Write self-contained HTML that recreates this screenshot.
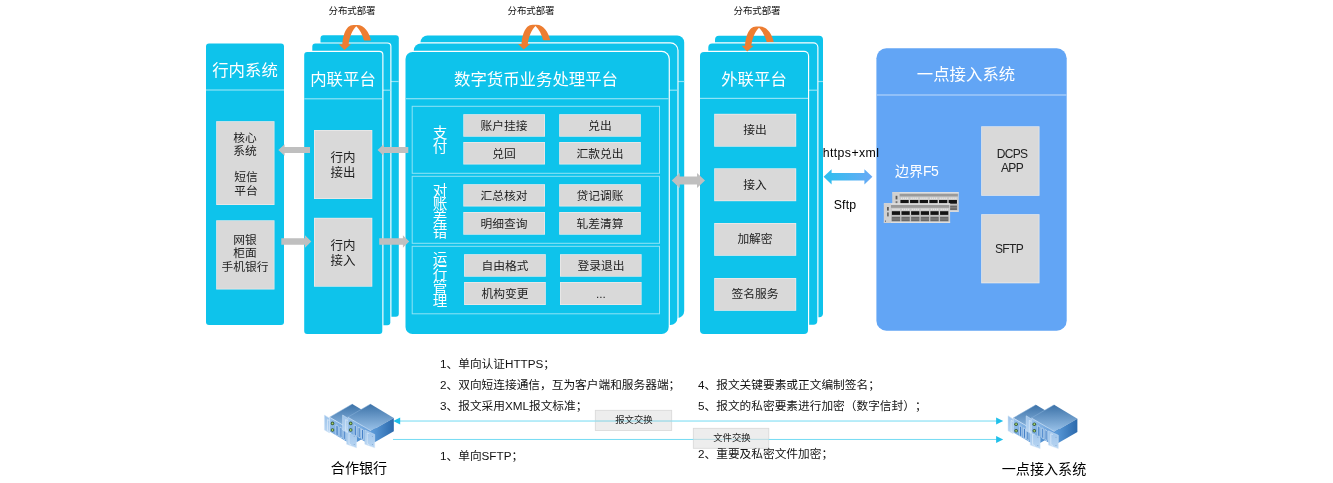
<!DOCTYPE html>
<html lang="zh"><head><meta charset="utf-8"><title>数字货币业务处理平台</title>
<style>
html,body{margin:0;padding:0;background:#fff;}
body{width:1333px;height:483px;position:relative;overflow:hidden;font-family:"Liberation Sans","Noto Sans CJK SC",sans-serif;}
svg{position:absolute;left:0;top:0;}
.t{position:absolute;white-space:nowrap;will-change:transform;line-height:20px;height:20px;text-spacing-trim:space-all;}
</style></head><body>
<svg width="1333" height="483" viewBox="0 0 1333 483">
<defs>
<linearGradient id="st" x1="0" y1="0" x2="0" y2="1"><stop offset="0" stop-color="#3C72A8"/><stop offset="1" stop-color="#9AC2E9"/></linearGradient>
<linearGradient id="sr" x1="0" y1="0" x2="1" y2="0"><stop offset="0" stop-color="#5E9DDB"/><stop offset="1" stop-color="#2B69AC"/></linearGradient>
<linearGradient id="sf" x1="0" y1="0" x2="1" y2="1"><stop offset="0" stop-color="#9CC4EC"/><stop offset="1" stop-color="#4A8BD0"/></linearGradient>
<linearGradient id="se" x1="0" y1="0" x2="0" y2="1"><stop offset="0" stop-color="#9DC3EA"/><stop offset="1" stop-color="#B9D6F3"/></linearGradient>
</defs>
<rect x="206.00" y="43.50" width="78.00" height="281.50" rx="3" fill="#0EC3EB" />
<rect x="206" y="89.4" width="78" height="1.2" fill="#8FE3F6"/>
<rect x="216.20" y="121.20" width="58.30" height="83.80" fill="#ECECEC"/>
<rect x="216.90" y="121.90" width="56.90" height="82.40" fill="#D9D9D9"/>
<rect x="216.20" y="220.30" width="58.30" height="69.20" fill="#ECECEC"/>
<rect x="216.90" y="221.00" width="56.90" height="67.80" fill="#D9D9D9"/>
<rect x="320.50" y="35.30" width="78.30" height="281.50" rx="3" fill="#0EC3EB" />
<rect x="320.50" y="80.90" width="78.30" height="1.2" fill="#8FE3F6"/>
<rect x="311.15" y="42.45" width="80.30" height="283.90" rx="4.1" fill="#fff" />
<rect x="312.30" y="43.60" width="78.00" height="281.60" rx="3" fill="#0EC3EB" />
<rect x="312.30" y="89.60" width="78.00" height="1.2" fill="#8FE3F6"/>
<rect x="303.05" y="50.85" width="80.40" height="284.30" rx="4.1" fill="#fff" />
<rect x="304.20" y="52.00" width="78.10" height="282.00" rx="3" fill="#0EC3EB" />
<rect x="304.20" y="98.20" width="78.10" height="1.2" fill="#8FE3F6"/>
<rect x="314.00" y="130.00" width="58.30" height="69.00" fill="#ECECEC"/>
<rect x="314.70" y="130.70" width="56.90" height="67.60" fill="#D9D9D9"/>
<rect x="314.00" y="217.80" width="58.30" height="68.90" fill="#ECECEC"/>
<rect x="314.70" y="218.50" width="56.90" height="67.50" fill="#D9D9D9"/>
<rect x="420.50" y="35.50" width="263.70" height="282.50" rx="7" fill="#0EC3EB" />
<rect x="420.50" y="80.90" width="263.70" height="1.2" fill="#8FE3F6"/>
<rect x="412.65" y="42.35" width="265.90" height="283.80" rx="8.1" fill="#fff" />
<rect x="413.80" y="43.50" width="263.60" height="281.50" rx="7" fill="#0EC3EB" />
<rect x="413.80" y="89.60" width="263.60" height="1.2" fill="#8FE3F6"/>
<rect x="404.35" y="50.85" width="265.50" height="284.30" rx="8.1" fill="#fff" />
<rect x="405.50" y="52.00" width="263.20" height="282.00" rx="7" fill="#0EC3EB" />
<rect x="405.50" y="98.10" width="263.20" height="1.2" fill="#8FE3F6"/>
<rect x="412.2" y="106.3" width="247.3" height="67.00" fill="none" stroke="#8FE3F6" stroke-width="1"/>
<rect x="412.2" y="176.3" width="247.3" height="67.00" fill="none" stroke="#8FE3F6" stroke-width="1"/>
<rect x="412.2" y="246.3" width="247.3" height="67.50" fill="none" stroke="#8FE3F6" stroke-width="1"/>
<rect x="463.30" y="114.20" width="81.70" height="22.50" fill="#ECECEC"/>
<rect x="464.00" y="114.90" width="80.30" height="21.10" fill="#D9D9D9"/>
<rect x="559.20" y="114.20" width="81.60" height="22.50" fill="#ECECEC"/>
<rect x="559.90" y="114.90" width="80.20" height="21.10" fill="#D9D9D9"/>
<rect x="463.30" y="142.00" width="81.70" height="22.50" fill="#ECECEC"/>
<rect x="464.00" y="142.70" width="80.30" height="21.10" fill="#D9D9D9"/>
<rect x="559.20" y="142.00" width="81.60" height="22.50" fill="#ECECEC"/>
<rect x="559.90" y="142.70" width="80.20" height="21.10" fill="#D9D9D9"/>
<rect x="463.30" y="184.20" width="81.70" height="22.30" fill="#ECECEC"/>
<rect x="464.00" y="184.90" width="80.30" height="20.90" fill="#D9D9D9"/>
<rect x="559.20" y="184.20" width="81.60" height="22.30" fill="#ECECEC"/>
<rect x="559.90" y="184.90" width="80.20" height="20.90" fill="#D9D9D9"/>
<rect x="463.30" y="212.00" width="81.70" height="22.70" fill="#ECECEC"/>
<rect x="464.00" y="212.70" width="80.30" height="21.30" fill="#D9D9D9"/>
<rect x="559.20" y="212.00" width="81.60" height="22.70" fill="#ECECEC"/>
<rect x="559.90" y="212.70" width="80.20" height="21.30" fill="#D9D9D9"/>
<rect x="464.10" y="254.20" width="81.70" height="22.50" fill="#ECECEC"/>
<rect x="464.80" y="254.90" width="80.30" height="21.10" fill="#D9D9D9"/>
<rect x="560.00" y="254.20" width="81.60" height="22.50" fill="#ECECEC"/>
<rect x="560.70" y="254.90" width="80.20" height="21.10" fill="#D9D9D9"/>
<rect x="464.10" y="282.00" width="81.70" height="23.00" fill="#ECECEC"/>
<rect x="464.80" y="282.70" width="80.30" height="21.60" fill="#D9D9D9"/>
<rect x="560.00" y="282.00" width="81.60" height="23.00" fill="#ECECEC"/>
<rect x="560.70" y="282.70" width="80.20" height="21.60" fill="#D9D9D9"/>
<rect x="715.00" y="35.70" width="108.00" height="281.50" rx="4" fill="#0EC3EB" />
<rect x="715.00" y="80.90" width="108.00" height="1.2" fill="#8FE3F6"/>
<rect x="707.15" y="42.35" width="111.30" height="283.60" rx="5.1" fill="#fff" />
<rect x="708.30" y="43.50" width="109.00" height="281.30" rx="4" fill="#0EC3EB" />
<rect x="708.30" y="89.60" width="109.00" height="1.2" fill="#8FE3F6"/>
<rect x="698.85" y="50.85" width="110.30" height="284.30" rx="5.1" fill="#fff" />
<rect x="700.00" y="52.00" width="108.00" height="282.00" rx="4" fill="#0EC3EB" />
<rect x="700.00" y="97.80" width="108.00" height="1.2" fill="#8FE3F6"/>
<rect x="714.20" y="113.80" width="82.00" height="32.90" fill="#ECECEC"/>
<rect x="714.90" y="114.50" width="80.60" height="31.50" fill="#D9D9D9"/>
<rect x="714.20" y="168.30" width="82.00" height="32.90" fill="#ECECEC"/>
<rect x="714.90" y="169.00" width="80.60" height="31.50" fill="#D9D9D9"/>
<rect x="714.20" y="223.00" width="82.00" height="32.80" fill="#ECECEC"/>
<rect x="714.90" y="223.70" width="80.60" height="31.40" fill="#D9D9D9"/>
<rect x="714.20" y="278.00" width="82.00" height="32.80" fill="#ECECEC"/>
<rect x="714.90" y="278.70" width="80.60" height="31.40" fill="#D9D9D9"/>
<rect x="876.40" y="48.30" width="190.30" height="282.50" rx="10" fill="#62A5F5" />
<rect x="876.4" y="94.3" width="190.3" height="1.4" fill="#A5CCFA"/>
<rect x="981.20" y="126.30" width="58.30" height="69.50" fill="#ECECEC"/>
<rect x="981.90" y="127.00" width="56.90" height="68.10" fill="#D9D9D9"/>
<rect x="981.20" y="214.20" width="58.30" height="69.10" fill="#ECECEC"/>
<rect x="981.90" y="214.90" width="56.90" height="67.70" fill="#D9D9D9"/>
<g transform="translate(892.5,192.2)"><rect x="0" y="0" width="66.2" height="19.6" fill="#D6D6D6"/><rect x="0" y="0" width="66.2" height="1.2" fill="#E4E4E4"/><rect x="0" y="18.200000000000003" width="66.2" height="1.4" fill="#DEDEDE"/><rect x="0" y="0" width="7" height="19.6" fill="#D0D0D0"/><rect x="7.1" y="1.5" width="58.3" height="3" fill="#9A9A9A"/><rect x="7.1" y="4.5" width="58.3" height="3.3" fill="#C9C9C9"/><rect x="7.1" y="11.5" width="58.3" height="6.7" fill="#BEBEBE"/><rect x="3.1" y="3.6" width="1.8" height="3.6" fill="#5a5a5a"/><rect x="3.1" y="9" width="1.8" height="4" fill="#707070"/><rect x="1.2" y="17" width="0.9" height="1.6" fill="#777"/><rect x="7.90" y="7.8" width="8.3" height="3.7" fill="#141414"/><rect x="7.90" y="13.4" width="8.3" height="4.4" fill="#686868"/><rect x="7.90" y="15.2" width="8.3" height="0.8" fill="#9a9a9a" opacity="0.7"/><rect x="8.50" y="5.3" width="1.2" height="1.5" fill="#E6E6E6"/><rect x="10.50" y="5.3" width="1.2" height="1.5" fill="#E6E6E6"/><rect x="12.50" y="5.3" width="1.2" height="1.5" fill="#E6E6E6"/><rect x="14.50" y="5.3" width="1.2" height="1.5" fill="#E6E6E6"/><rect x="17.55" y="7.8" width="8.3" height="3.7" fill="#141414"/><rect x="17.55" y="13.4" width="8.3" height="4.4" fill="#686868"/><rect x="17.55" y="15.2" width="8.3" height="0.8" fill="#9a9a9a" opacity="0.7"/><rect x="18.15" y="5.3" width="1.2" height="1.5" fill="#E6E6E6"/><rect x="20.15" y="5.3" width="1.2" height="1.5" fill="#E6E6E6"/><rect x="22.15" y="5.3" width="1.2" height="1.5" fill="#E6E6E6"/><rect x="24.15" y="5.3" width="1.2" height="1.5" fill="#E6E6E6"/><rect x="27.20" y="7.8" width="8.3" height="3.7" fill="#141414"/><rect x="27.20" y="13.4" width="8.3" height="4.4" fill="#686868"/><rect x="27.20" y="15.2" width="8.3" height="0.8" fill="#9a9a9a" opacity="0.7"/><rect x="27.80" y="5.3" width="1.2" height="1.5" fill="#E6E6E6"/><rect x="29.80" y="5.3" width="1.2" height="1.5" fill="#E6E6E6"/><rect x="31.80" y="5.3" width="1.2" height="1.5" fill="#E6E6E6"/><rect x="33.80" y="5.3" width="1.2" height="1.5" fill="#E6E6E6"/><rect x="36.85" y="7.8" width="8.3" height="3.7" fill="#141414"/><rect x="36.85" y="13.4" width="8.3" height="4.4" fill="#686868"/><rect x="36.85" y="15.2" width="8.3" height="0.8" fill="#9a9a9a" opacity="0.7"/><rect x="37.45" y="5.3" width="1.2" height="1.5" fill="#E6E6E6"/><rect x="39.45" y="5.3" width="1.2" height="1.5" fill="#E6E6E6"/><rect x="41.45" y="5.3" width="1.2" height="1.5" fill="#E6E6E6"/><rect x="43.45" y="5.3" width="1.2" height="1.5" fill="#E6E6E6"/><rect x="46.50" y="7.8" width="8.3" height="3.7" fill="#141414"/><rect x="46.50" y="13.4" width="8.3" height="4.4" fill="#686868"/><rect x="46.50" y="15.2" width="8.3" height="0.8" fill="#9a9a9a" opacity="0.7"/><rect x="47.10" y="5.3" width="1.2" height="1.5" fill="#E6E6E6"/><rect x="49.10" y="5.3" width="1.2" height="1.5" fill="#E6E6E6"/><rect x="51.10" y="5.3" width="1.2" height="1.5" fill="#E6E6E6"/><rect x="53.10" y="5.3" width="1.2" height="1.5" fill="#E6E6E6"/><rect x="56.15" y="7.8" width="8.3" height="3.7" fill="#141414"/><rect x="56.15" y="13.4" width="8.3" height="4.4" fill="#686868"/><rect x="56.15" y="15.2" width="8.3" height="0.8" fill="#9a9a9a" opacity="0.7"/><rect x="56.75" y="5.3" width="1.2" height="1.5" fill="#E6E6E6"/><rect x="58.75" y="5.3" width="1.2" height="1.5" fill="#E6E6E6"/><rect x="60.75" y="5.3" width="1.2" height="1.5" fill="#E6E6E6"/><rect x="62.75" y="5.3" width="1.2" height="1.5" fill="#E6E6E6"/></g>
<g transform="translate(883.9,203.4)"><rect x="0" y="0" width="66.2" height="19.6" fill="#D6D6D6"/><rect x="0" y="0" width="66.2" height="1.2" fill="#E4E4E4"/><rect x="0" y="18.200000000000003" width="66.2" height="1.4" fill="#DEDEDE"/><rect x="0" y="0" width="7" height="19.6" fill="#D0D0D0"/><rect x="7.1" y="1.5" width="58.3" height="3" fill="#9A9A9A"/><rect x="7.1" y="4.5" width="58.3" height="3.3" fill="#C9C9C9"/><rect x="7.1" y="11.5" width="58.3" height="6.7" fill="#BEBEBE"/><rect x="3.1" y="3.6" width="1.8" height="3.6" fill="#5a5a5a"/><rect x="3.1" y="9" width="1.8" height="4" fill="#707070"/><rect x="1.2" y="17" width="0.9" height="1.6" fill="#777"/><rect x="7.90" y="7.8" width="8.3" height="3.7" fill="#141414"/><rect x="7.90" y="13.4" width="8.3" height="4.4" fill="#686868"/><rect x="7.90" y="15.2" width="8.3" height="0.8" fill="#9a9a9a" opacity="0.7"/><rect x="8.50" y="5.3" width="1.2" height="1.5" fill="#E6E6E6"/><rect x="10.50" y="5.3" width="1.2" height="1.5" fill="#E6E6E6"/><rect x="12.50" y="5.3" width="1.2" height="1.5" fill="#E6E6E6"/><rect x="14.50" y="5.3" width="1.2" height="1.5" fill="#E6E6E6"/><rect x="17.55" y="7.8" width="8.3" height="3.7" fill="#141414"/><rect x="17.55" y="13.4" width="8.3" height="4.4" fill="#686868"/><rect x="17.55" y="15.2" width="8.3" height="0.8" fill="#9a9a9a" opacity="0.7"/><rect x="18.15" y="5.3" width="1.2" height="1.5" fill="#E6E6E6"/><rect x="20.15" y="5.3" width="1.2" height="1.5" fill="#E6E6E6"/><rect x="22.15" y="5.3" width="1.2" height="1.5" fill="#E6E6E6"/><rect x="24.15" y="5.3" width="1.2" height="1.5" fill="#E6E6E6"/><rect x="27.20" y="7.8" width="8.3" height="3.7" fill="#141414"/><rect x="27.20" y="13.4" width="8.3" height="4.4" fill="#686868"/><rect x="27.20" y="15.2" width="8.3" height="0.8" fill="#9a9a9a" opacity="0.7"/><rect x="27.80" y="5.3" width="1.2" height="1.5" fill="#E6E6E6"/><rect x="29.80" y="5.3" width="1.2" height="1.5" fill="#E6E6E6"/><rect x="31.80" y="5.3" width="1.2" height="1.5" fill="#E6E6E6"/><rect x="33.80" y="5.3" width="1.2" height="1.5" fill="#E6E6E6"/><rect x="36.85" y="7.8" width="8.3" height="3.7" fill="#141414"/><rect x="36.85" y="13.4" width="8.3" height="4.4" fill="#686868"/><rect x="36.85" y="15.2" width="8.3" height="0.8" fill="#9a9a9a" opacity="0.7"/><rect x="37.45" y="5.3" width="1.2" height="1.5" fill="#E6E6E6"/><rect x="39.45" y="5.3" width="1.2" height="1.5" fill="#E6E6E6"/><rect x="41.45" y="5.3" width="1.2" height="1.5" fill="#E6E6E6"/><rect x="43.45" y="5.3" width="1.2" height="1.5" fill="#E6E6E6"/><rect x="46.50" y="7.8" width="8.3" height="3.7" fill="#141414"/><rect x="46.50" y="13.4" width="8.3" height="4.4" fill="#686868"/><rect x="46.50" y="15.2" width="8.3" height="0.8" fill="#9a9a9a" opacity="0.7"/><rect x="47.10" y="5.3" width="1.2" height="1.5" fill="#E6E6E6"/><rect x="49.10" y="5.3" width="1.2" height="1.5" fill="#E6E6E6"/><rect x="51.10" y="5.3" width="1.2" height="1.5" fill="#E6E6E6"/><rect x="53.10" y="5.3" width="1.2" height="1.5" fill="#E6E6E6"/><rect x="56.15" y="7.8" width="8.3" height="3.7" fill="#141414"/><rect x="56.15" y="13.4" width="8.3" height="4.4" fill="#686868"/><rect x="56.15" y="15.2" width="8.3" height="0.8" fill="#9a9a9a" opacity="0.7"/><rect x="56.75" y="5.3" width="1.2" height="1.5" fill="#E6E6E6"/><rect x="58.75" y="5.3" width="1.2" height="1.5" fill="#E6E6E6"/><rect x="60.75" y="5.3" width="1.2" height="1.5" fill="#E6E6E6"/><rect x="62.75" y="5.3" width="1.2" height="1.5" fill="#E6E6E6"/></g>
<path d="M278.30 150.00 L284.60 144.20 L284.60 147.10 L310.00 147.10 L310.00 152.90 L284.60 152.90 L284.60 155.80 Z" fill="#BFBFBF"/>
<path d="M377.50 150.00 L383.80 144.20 L383.80 147.10 L408.30 147.10 L408.30 152.90 L383.80 152.90 L383.80 155.80 Z" fill="#BFBFBF"/>
<path d="M311.30 241.50 L305.00 235.20 L305.00 238.25 L281.30 238.25 L281.30 244.75 L305.00 244.75 L305.00 247.80 Z" fill="#BFBFBF"/>
<path d="M409.20 241.50 L402.90 235.20 L402.90 238.25 L379.20 238.25 L379.20 244.75 L402.90 244.75 L402.90 247.80 Z" fill="#BFBFBF"/>
<path d="M671.70 180.50 L679.70 173.00 L679.70 176.60 L697.00 176.60 L697.00 173.00 L705.00 180.50 L697.00 188.00 L697.00 184.40 L679.70 184.40 L679.70 188.00 Z" fill="#BFBFBF"/>
<defs><linearGradient id="bg" x1="0" x2="1" y1="0" y2="0"><stop offset="0" stop-color="#2CC0EF"/><stop offset="1" stop-color="#6AA9F5"/></linearGradient></defs>
<path d="M823.60 176.80 L831.60 169.15 L831.60 173.05 L864.40 173.05 L864.40 169.15 L872.40 176.80 L864.40 184.45 L864.40 180.55 L831.60 180.55 L831.60 184.45 Z" fill="url(#bg)"/>
<path transform="translate(344.5,49.9)" d="M-2.1,-5.6 C-1.8,-12 0.5,-24.9 9,-24.9 L13,-24.9 C19.6,-24.9 24.9,-17.5 26.5,-9.4 L19.5,-9.4 C18,-15 15.5,-20 11.8,-23.6 C8,-20 5,-13 4.1,-5.6 L6.4,-5.6 L0,0 L-5.6,-5.6 Z" fill="#ED7D31"/>
<path transform="translate(523.7,49.6)" d="M-2.1,-5.6 C-1.8,-12 0.5,-24.9 9,-24.9 L13,-24.9 C19.6,-24.9 24.9,-17.5 26.5,-9.4 L19.5,-9.4 C18,-15 15.5,-20 11.8,-23.6 C8,-20 5,-13 4.1,-5.6 L6.4,-5.6 L0,0 L-5.6,-5.6 Z" fill="#ED7D31"/>
<path transform="translate(747.2,51.4)" d="M-2.1,-5.6 C-1.8,-12 0.5,-24.9 9,-24.9 L13,-24.9 C19.6,-24.9 24.9,-17.5 26.5,-9.4 L19.5,-9.4 C18,-15 15.5,-20 11.8,-23.6 C8,-20 5,-13 4.1,-5.6 L6.4,-5.6 L0,0 L-5.6,-5.6 Z" fill="#ED7D31"/>
<rect x="595.3" y="410.3" width="76.4" height="20.2" fill="#EDEDED" stroke="#D8D8D8" stroke-width="0.8"/>
<rect x="693.3" y="428.3" width="75.5" height="20" fill="#EDEDED" stroke="#D8D8D8" stroke-width="0.8"/>
<rect x="399" y="420.5" width="600" height="1.05" fill="#7ADCF3"/>
<rect x="393" y="438.95" width="606" height="1.05" fill="#7ADCF3"/>
<rect x="595.3" y="420.5" width="76.4" height="1.05" fill="#BFDDE4"/>
<rect x="693.3" y="438.95" width="75.5" height="1.05" fill="#BFDDE4"/>
<path d="M393.2 420.95 L400.2 417.5 L400.2 424.4 Z" fill="#1FC0EA"/>
<path d="M1003.2 421 L996.1 417.6 L996.1 424.4 Z" fill="#1FC0EA"/>
<path d="M1003.2 439.5 L996.1 436.1 L996.1 442.9 Z" fill="#1FC0EA"/>
<g transform="translate(326.6,403.6)">
  <polygon points="3,13.6 25.7,0.4 49,14.3 26.2,27.3" fill="url(#st)"/>
  <polygon points="26.2,27.3 49,14.3 49,27.7 29.9,38.6 26.2,38" fill="url(#sr)"/>
  <polygon points="3,13.6 26.2,27.3 26.2,41.6 3,28" fill="url(#sf)"/>
  <path d="M3,13.6 L26.2,27.3" stroke="#CFE2F6" stroke-width="0.7" fill="none"/>
  <path d="M3,13.6 L25.7,0.4" stroke="#8DB4DC" stroke-width="0.5" fill="none"/>
  <polygon points="-2.2,11.4 3,14.6 3,29.3 -2.2,26.4" fill="url(#se)" stroke="#D3E4F6" stroke-width="0.5"/>
  <path d="M2.8,17 L0.9,16 L0.9,27 L2.8,28" stroke="#E8F1FB" stroke-width="0.6" fill="none"/>
  <polygon points="20,26.4 29.9,30.8 29.9,44.2 20,40.6" fill="url(#se)" stroke="#D3E4F6" stroke-width="0.5"/>
  <path d="M24.6,30.2 L22.4,29.3 L22.4,40.2 L24.6,41.2" stroke="#E8F1FB" stroke-width="0.6" fill="none"/>
  <circle cx="27.6" cy="32.8" r="0.5" fill="#7FA5CC"/><circle cx="27.6" cy="41" r="0.5" fill="#7FA5CC"/>
  <circle cx="5.9" cy="19.8" r="1.8" fill="#3a5a3a"/><circle cx="5.9" cy="19.8" r="0.9" fill="#a6d96e"/>
  <circle cx="5.9" cy="26.4" r="1.8" fill="#3a5a3a"/><circle cx="5.9" cy="26.4" r="0.9" fill="#a6d96e"/>
  <path d="M9.4 21.3 L11.5 22.5 L11.5 32.6 L9.4 31.4 Z M13.4 23.4 L15.3 24.5 L15.3 34.4 L13.4 33.3 Z M16.7 25.2 L18.6 26.3 L18.6 36.2 L16.7 35.1 Z" fill="#3A7AC6" stroke="#D6E6F7" stroke-width="0.7"/>
</g>
<g transform="translate(344.8,403.6)">
  <polygon points="3,13.6 25.7,0.4 49,14.3 26.2,27.3" fill="url(#st)"/>
  <polygon points="26.2,27.3 49,14.3 49,27.7 29.9,38.6 26.2,38" fill="url(#sr)"/>
  <polygon points="3,13.6 26.2,27.3 26.2,41.6 3,28" fill="url(#sf)"/>
  <path d="M3,13.6 L26.2,27.3" stroke="#CFE2F6" stroke-width="0.7" fill="none"/>
  <path d="M3,13.6 L25.7,0.4" stroke="#8DB4DC" stroke-width="0.5" fill="none"/>
  <polygon points="-2.2,11.4 3,14.6 3,29.3 -2.2,26.4" fill="url(#se)" stroke="#D3E4F6" stroke-width="0.5"/>
  <path d="M2.8,17 L0.9,16 L0.9,27 L2.8,28" stroke="#E8F1FB" stroke-width="0.6" fill="none"/>
  <polygon points="20,26.4 29.9,30.8 29.9,44.2 20,40.6" fill="url(#se)" stroke="#D3E4F6" stroke-width="0.5"/>
  <path d="M24.6,30.2 L22.4,29.3 L22.4,40.2 L24.6,41.2" stroke="#E8F1FB" stroke-width="0.6" fill="none"/>
  <circle cx="27.6" cy="32.8" r="0.5" fill="#7FA5CC"/><circle cx="27.6" cy="41" r="0.5" fill="#7FA5CC"/>
  <circle cx="5.9" cy="19.8" r="1.8" fill="#3a5a3a"/><circle cx="5.9" cy="19.8" r="0.9" fill="#a6d96e"/>
  <circle cx="5.9" cy="26.4" r="1.8" fill="#3a5a3a"/><circle cx="5.9" cy="26.4" r="0.9" fill="#a6d96e"/>
  <path d="M9.4 21.3 L11.5 22.5 L11.5 32.6 L9.4 31.4 Z M13.4 23.4 L15.3 24.5 L15.3 34.4 L13.4 33.3 Z M16.7 25.2 L18.6 26.3 L18.6 36.2 L16.7 35.1 Z" fill="#3A7AC6" stroke="#D6E6F7" stroke-width="0.7"/>
</g>
<g transform="translate(1010.2,404.4)">
  <polygon points="3,13.6 25.7,0.4 49,14.3 26.2,27.3" fill="url(#st)"/>
  <polygon points="26.2,27.3 49,14.3 49,27.7 29.9,38.6 26.2,38" fill="url(#sr)"/>
  <polygon points="3,13.6 26.2,27.3 26.2,41.6 3,28" fill="url(#sf)"/>
  <path d="M3,13.6 L26.2,27.3" stroke="#CFE2F6" stroke-width="0.7" fill="none"/>
  <path d="M3,13.6 L25.7,0.4" stroke="#8DB4DC" stroke-width="0.5" fill="none"/>
  <polygon points="-2.2,11.4 3,14.6 3,29.3 -2.2,26.4" fill="url(#se)" stroke="#D3E4F6" stroke-width="0.5"/>
  <path d="M2.8,17 L0.9,16 L0.9,27 L2.8,28" stroke="#E8F1FB" stroke-width="0.6" fill="none"/>
  <polygon points="20,26.4 29.9,30.8 29.9,44.2 20,40.6" fill="url(#se)" stroke="#D3E4F6" stroke-width="0.5"/>
  <path d="M24.6,30.2 L22.4,29.3 L22.4,40.2 L24.6,41.2" stroke="#E8F1FB" stroke-width="0.6" fill="none"/>
  <circle cx="27.6" cy="32.8" r="0.5" fill="#7FA5CC"/><circle cx="27.6" cy="41" r="0.5" fill="#7FA5CC"/>
  <circle cx="5.9" cy="19.8" r="1.8" fill="#3a5a3a"/><circle cx="5.9" cy="19.8" r="0.9" fill="#a6d96e"/>
  <circle cx="5.9" cy="26.4" r="1.8" fill="#3a5a3a"/><circle cx="5.9" cy="26.4" r="0.9" fill="#a6d96e"/>
  <path d="M9.4 21.3 L11.5 22.5 L11.5 32.6 L9.4 31.4 Z M13.4 23.4 L15.3 24.5 L15.3 34.4 L13.4 33.3 Z M16.7 25.2 L18.6 26.3 L18.6 36.2 L16.7 35.1 Z" fill="#3A7AC6" stroke="#D6E6F7" stroke-width="0.7"/>
</g>
<g transform="translate(1028.4,404.4)">
  <polygon points="3,13.6 25.7,0.4 49,14.3 26.2,27.3" fill="url(#st)"/>
  <polygon points="26.2,27.3 49,14.3 49,27.7 29.9,38.6 26.2,38" fill="url(#sr)"/>
  <polygon points="3,13.6 26.2,27.3 26.2,41.6 3,28" fill="url(#sf)"/>
  <path d="M3,13.6 L26.2,27.3" stroke="#CFE2F6" stroke-width="0.7" fill="none"/>
  <path d="M3,13.6 L25.7,0.4" stroke="#8DB4DC" stroke-width="0.5" fill="none"/>
  <polygon points="-2.2,11.4 3,14.6 3,29.3 -2.2,26.4" fill="url(#se)" stroke="#D3E4F6" stroke-width="0.5"/>
  <path d="M2.8,17 L0.9,16 L0.9,27 L2.8,28" stroke="#E8F1FB" stroke-width="0.6" fill="none"/>
  <polygon points="20,26.4 29.9,30.8 29.9,44.2 20,40.6" fill="url(#se)" stroke="#D3E4F6" stroke-width="0.5"/>
  <path d="M24.6,30.2 L22.4,29.3 L22.4,40.2 L24.6,41.2" stroke="#E8F1FB" stroke-width="0.6" fill="none"/>
  <circle cx="27.6" cy="32.8" r="0.5" fill="#7FA5CC"/><circle cx="27.6" cy="41" r="0.5" fill="#7FA5CC"/>
  <circle cx="5.9" cy="19.8" r="1.8" fill="#3a5a3a"/><circle cx="5.9" cy="19.8" r="0.9" fill="#a6d96e"/>
  <circle cx="5.9" cy="26.4" r="1.8" fill="#3a5a3a"/><circle cx="5.9" cy="26.4" r="0.9" fill="#a6d96e"/>
  <path d="M9.4 21.3 L11.5 22.5 L11.5 32.6 L9.4 31.4 Z M13.4 23.4 L15.3 24.5 L15.3 34.4 L13.4 33.3 Z M16.7 25.2 L18.6 26.3 L18.6 36.2 L16.7 35.1 Z" fill="#3A7AC6" stroke="#D6E6F7" stroke-width="0.7"/>
</g>
</svg>
<div class="t" style="left:94.8px;top:60px;width:300px;font-size:16.4px;color:#fff;text-align:center;">行内系统</div>
<div class="t" style="left:95.3px;top:128px;width:300px;font-size:11.75px;color:#222;text-align:center;">核心</div>
<div class="t" style="left:95.3px;top:141px;width:300px;font-size:11.75px;color:#222;text-align:center;">系统</div>
<div class="t" style="left:95.5px;top:167px;width:300px;font-size:11.75px;color:#222;text-align:center;">短信</div>
<div class="t" style="left:95.5px;top:181px;width:300px;font-size:11.75px;color:#222;text-align:center;">平台</div>
<div class="t" style="left:94.8px;top:230px;width:300px;font-size:11.75px;color:#222;text-align:center;">网银</div>
<div class="t" style="left:94.8px;top:243px;width:300px;font-size:11.75px;color:#222;text-align:center;">柜面</div>
<div class="t" style="left:94.8px;top:257px;width:300px;font-size:11.75px;color:#222;text-align:center;">手机银行</div>
<div class="t" style="left:192.9px;top:69px;width:300px;font-size:16.4px;color:#fff;text-align:center;">内联平台</div>
<div class="t" style="left:193.1px;top:148px;width:300px;font-size:12.5px;color:#222;text-align:center;">行内</div>
<div class="t" style="left:193.1px;top:163px;width:300px;font-size:12.5px;color:#222;text-align:center;">接出</div>
<div class="t" style="left:193.1px;top:236px;width:300px;font-size:12.5px;color:#222;text-align:center;">行内</div>
<div class="t" style="left:193.1px;top:251px;width:300px;font-size:12.5px;color:#222;text-align:center;">接入</div>
<div class="t" style="left:386.3px;top:69px;width:300px;font-size:16.4px;color:#fff;text-align:center;">数字货币业务处理平台</div>
<div class="t" style="left:354.1px;top:116px;width:300px;font-size:11.75px;color:#222;text-align:center;">账户挂接</div>
<div class="t" style="left:450.0px;top:116px;width:300px;font-size:11.75px;color:#222;text-align:center;">兑出</div>
<div class="t" style="left:354.1px;top:144px;width:300px;font-size:11.75px;color:#222;text-align:center;">兑回</div>
<div class="t" style="left:450.0px;top:144px;width:300px;font-size:11.75px;color:#222;text-align:center;">汇款兑出</div>
<div class="t" style="left:354.1px;top:186px;width:300px;font-size:11.75px;color:#222;text-align:center;">汇总核对</div>
<div class="t" style="left:450.0px;top:186px;width:300px;font-size:11.75px;color:#222;text-align:center;">贷记调账</div>
<div class="t" style="left:354.1px;top:214px;width:300px;font-size:11.75px;color:#222;text-align:center;">明细查询</div>
<div class="t" style="left:450.0px;top:214px;width:300px;font-size:11.75px;color:#222;text-align:center;">轧差清算</div>
<div class="t" style="left:354.9px;top:256px;width:300px;font-size:11.75px;color:#222;text-align:center;">自由格式</div>
<div class="t" style="left:450.8px;top:256px;width:300px;font-size:11.75px;color:#222;text-align:center;">登录退出</div>
<div class="t" style="left:354.9px;top:284px;width:300px;font-size:11.75px;color:#222;text-align:center;">机构变更</div>
<div class="t" style="left:450.8px;top:284px;width:300px;font-size:11.75px;color:#222;text-align:center;">...</div>
<div class="t" style="left:290.3px;top:123px;width:300px;font-size:14.6px;color:#fff;text-align:center;">支</div>
<div class="t" style="left:290.3px;top:137px;width:300px;font-size:14.6px;color:#fff;text-align:center;">付</div>
<div class="t" style="left:290.3px;top:181px;width:300px;font-size:14.6px;color:#fff;text-align:center;">对</div>
<div class="t" style="left:290.3px;top:194px;width:300px;font-size:14.6px;color:#fff;text-align:center;">账</div>
<div class="t" style="left:290.3px;top:208px;width:300px;font-size:14.6px;color:#fff;text-align:center;">差</div>
<div class="t" style="left:290.3px;top:222px;width:300px;font-size:14.6px;color:#fff;text-align:center;">错</div>
<div class="t" style="left:290.3px;top:249px;width:300px;font-size:14.6px;color:#fff;text-align:center;">运</div>
<div class="t" style="left:290.3px;top:263px;width:300px;font-size:14.6px;color:#fff;text-align:center;">行</div>
<div class="t" style="left:290.3px;top:277px;width:300px;font-size:14.6px;color:#fff;text-align:center;">管</div>
<div class="t" style="left:290.3px;top:291px;width:300px;font-size:14.6px;color:#fff;text-align:center;">理</div>
<div class="t" style="left:604.3px;top:69px;width:300px;font-size:16.4px;color:#fff;text-align:center;">外联平台</div>
<div class="t" style="left:605.2px;top:120px;width:300px;font-size:11.75px;color:#222;text-align:center;">接出</div>
<div class="t" style="left:605.2px;top:175px;width:300px;font-size:11.75px;color:#222;text-align:center;">接入</div>
<div class="t" style="left:605.2px;top:229px;width:300px;font-size:11.75px;color:#222;text-align:center;">加解密</div>
<div class="t" style="left:605.2px;top:284px;width:300px;font-size:11.75px;color:#222;text-align:center;">签名服务</div>
<div class="t" style="left:815.8px;top:64px;width:300px;font-size:16.4px;color:#fff;text-align:center;">一点接入系统</div>
<div class="t" style="left:861.6px;top:144px;width:300px;font-size:12px;color:#222;text-align:center;letter-spacing:-0.7px;">DCPS</div>
<div class="t" style="left:861.6px;top:158px;width:300px;font-size:12px;color:#222;text-align:center;letter-spacing:-0.7px;">APP</div>
<div class="t" style="left:858.9px;top:239px;width:300px;font-size:12px;color:#222;text-align:center;letter-spacing:-0.7px;">SFTP</div>
<div class="t" style="left:895.0px;top:161px;width:300px;font-size:14px;color:#fff;text-align:left;">边界<span style="letter-spacing:-0.6px">F5</span></div>
<div class="t" style="left:202.0px;top:1px;width:300px;font-size:9.5px;color:#111;text-align:center;letter-spacing:-0.1px;">分布式部署</div>
<div class="t" style="left:381.3px;top:1px;width:300px;font-size:9.5px;color:#111;text-align:center;letter-spacing:-0.1px;">分布式部署</div>
<div class="t" style="left:606.6px;top:1px;width:300px;font-size:9.5px;color:#111;text-align:center;letter-spacing:-0.1px;">分布式部署</div>
<div class="t" style="left:701.2px;top:143px;width:300px;font-size:12.3px;color:#000;text-align:center;letter-spacing:0.42px;">https+xml</div>
<div class="t" style="left:695.2px;top:195px;width:300px;font-size:12.3px;color:#000;text-align:center;letter-spacing:0.2px;">Sftp</div>
<div class="t" style="left:440.3px;top:354px;width:400px;font-size:11.7px;color:#111;text-align:left;">1、单向认证HTTPS；</div>
<div class="t" style="left:440.3px;top:375px;width:400px;font-size:11.7px;color:#111;text-align:left;">2、双向短连接通信，互为客户端和服务器端；</div>
<div class="t" style="left:440.3px;top:396px;width:400px;font-size:11.7px;color:#111;text-align:left;">3、报文采用XML报文标准；</div>
<div class="t" style="left:440.3px;top:446px;width:400px;font-size:11.7px;color:#111;text-align:left;">1、单向SFTP；</div>
<div class="t" style="left:697.9px;top:375px;width:400px;font-size:11.7px;color:#111;text-align:left;">4、报文关键要素或正文编制签名；</div>
<div class="t" style="left:697.9px;top:396px;width:400px;font-size:11.7px;color:#111;text-align:left;">5、报文的私密要素进行加密（数字信封）；</div>
<div class="t" style="left:697.9px;top:444px;width:400px;font-size:11.7px;color:#111;text-align:left;">2、重要及私密文件加密；</div>
<div class="t" style="left:483.5px;top:410px;width:300px;font-size:9.4px;color:#222;text-align:center;">报文交换</div>
<div class="t" style="left:581.5px;top:428px;width:300px;font-size:9.4px;color:#222;text-align:center;">文件交换</div>
<div class="t" style="left:209.2px;top:458px;width:300px;font-size:14.1px;color:#000;text-align:center;">合作银行</div>
<div class="t" style="left:893.6px;top:459px;width:300px;font-size:14.1px;color:#000;text-align:center;">一点接入系统</div>
</body></html>
